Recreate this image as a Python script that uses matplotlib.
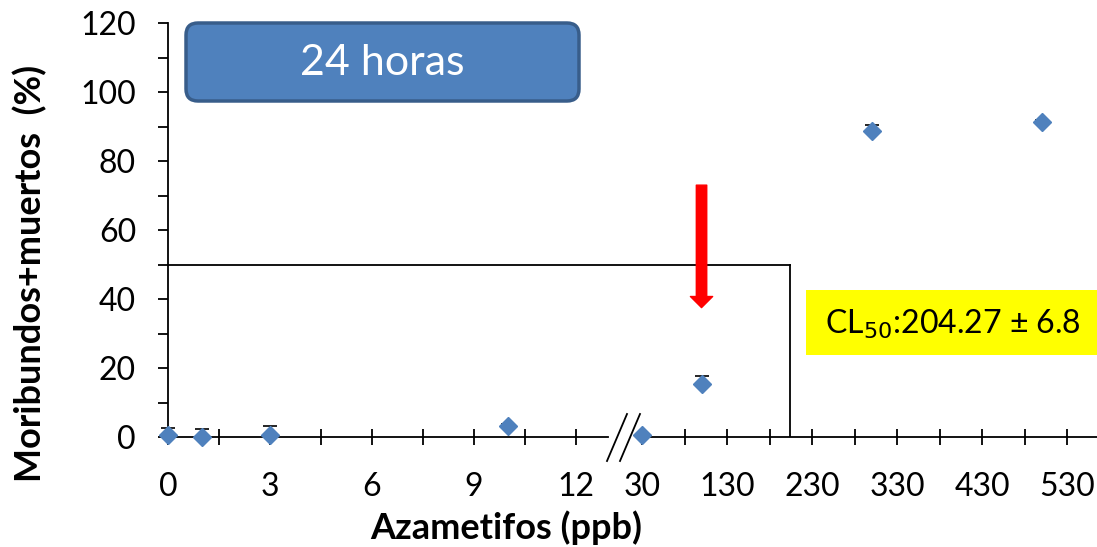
import numpy as np
import matplotlib

matplotlib.use("Agg")
import matplotlib.pyplot as plt
from matplotlib.patches import FancyBboxPatch, Rectangle

plt.rcParams["font.family"] = ["Lato", "DejaVu Sans"]

# Azametifos concentrations (ppb) and % moribund + dead after 24 h
conc = [0, 1, 3, 10, 30, 100, 300, 500]
mortality = [0.5, 0.0, 0.6, 3.3, 0.5, 15.3, 88.7, 91.2]
mortality_err = [2.0, 2.2, 2.6, 0.4, 0.4, 2.4, 1.8, 0.8]

lc50 = 204.27
lc50_err = 6.8

major_ticks = [0, 3, 6, 9, 12, 30, 130, 230, 330, 430, 530]
minor_ticks = [1.5, 4.5, 7.5, 10.5, 80, 180, 280, 380, 480]

# broken x axis: 0-13 linear, 13-30 squeezed into the gap, then 1/40 scale
brk_data = [-1e4, 13.0, 30.0, 1e5]
brk_unit = [-1e4, 13.0, 13.94, 13.94 + (1e5 - 30.0) * 0.025]


def fwd(x):
    return np.interp(x, brk_data, brk_unit)


def inv(u):
    return np.interp(u, brk_unit, brk_data)


fig = plt.figure(figsize=(10.97, 5.47), dpi=100)
ax = fig.add_axes([168 / 1097, 1 - 437 / 547, 929 / 1097, 414 / 547])
ax.set_xscale("function", functions=(fwd, inv))
ax.set_xlim(0, inv(27.32))
ax.set_ylim(0, 120)

for side in ("top", "right", "bottom"):
    ax.spines[side].set_visible(False)
ax.spines["left"].set_linewidth(1.3)

# x axis line in two pieces around the break
ax.plot([0, inv(12.94)], [0, 0], color="black", lw=1.3, clip_on=False, zorder=2)
ax.plot([inv(13.88), inv(27.32)], [0, 0], color="black", lw=1.3, clip_on=False, zorder=2)
for x0 in (607, 620):
    ax.plot([(x0 - 168) / 929, (x0 + 20 - 168) / 929], [-24 / 414, 23 / 414],
            transform=ax.transAxes, color="black", lw=1.3, clip_on=False)

ax.set_xticks(major_ticks)
ax.set_xticklabels([str(t) for t in major_ticks])
ax.set_xticks(minor_ticks, minor=True)
ax.tick_params(axis="x", which="both", direction="inout", length=12, width=1.3,
               labelsize=23, pad=19)
ax.set_yticks(np.arange(0, 121, 20))
ax.set_yticks(np.arange(10, 120, 20), minor=True)
ax.tick_params(axis="y", which="both", direction="out", length=7, width=1.3,
               labelsize=23, pad=16)

ax.set_xlabel("Azametifos (ppb)", fontsize=26, fontweight="bold")
ax.xaxis.set_label_coords((506 - 168) / 929, -(510 - 437) / 414)
ax.set_ylabel("Moribundos+muertos  (%)", fontsize=26, fontweight="bold")
ax.yaxis.set_label_coords(-(168 - 47) / 929, (437 - 273) / 414)

# LC50 guide lines
ax.plot([0, lc50], [50, 50], color="black", lw=1.3, zorder=2)
ax.plot([lc50, lc50], [0, 50], color="black", lw=1.3, zorder=2)

ax.errorbar(conc, mortality, yerr=[np.zeros(len(conc)), mortality_err],
            fmt="none", ecolor="black", elinewidth=1.2, capsize=5, capthick=1.2,
            clip_on=False, zorder=3)
ax.plot(conc, mortality, "D", color="#4F81BD", ms=9, mec="#4F81BD",
        clip_on=False, zorder=4)

ax.annotate("", xy=(100, 37.5), xytext=(100, 73),
            arrowprops=dict(arrowstyle="simple,head_width=1.6,head_length=0.8,tail_width=0.75",
                            color="red", mutation_scale=10, shrinkA=0, shrinkB=0))

fig.patches.append(Rectangle((806 / 1097, 1 - 355 / 547), 291 / 1097, 65 / 547,
                             transform=fig.transFigure, facecolor="#FFFF00",
                             edgecolor="none"))
fig.text(953 / 1097, 1 - 324 / 547,
         "CL$_{50}$:" + f"{lc50:.2f} \u00b1 {lc50_err}",
         ha="center", va="center", fontsize=23)

box = FancyBboxPatch((1.86, 4.46), 3.93, 0.78,
                     boxstyle="round,pad=0,rounding_size=0.12",
                     transform=fig.dpi_scale_trans, facecolor="#4F81BD",
                     edgecolor="#385D8A", lw=2.5)
fig.patches.append(box)
fig.text(382 / 1097, 1 - 63 / 547, "24 horas", ha="center", va="center",
         color="white", fontsize=31)

fig.savefig("out.png", dpi=100)
